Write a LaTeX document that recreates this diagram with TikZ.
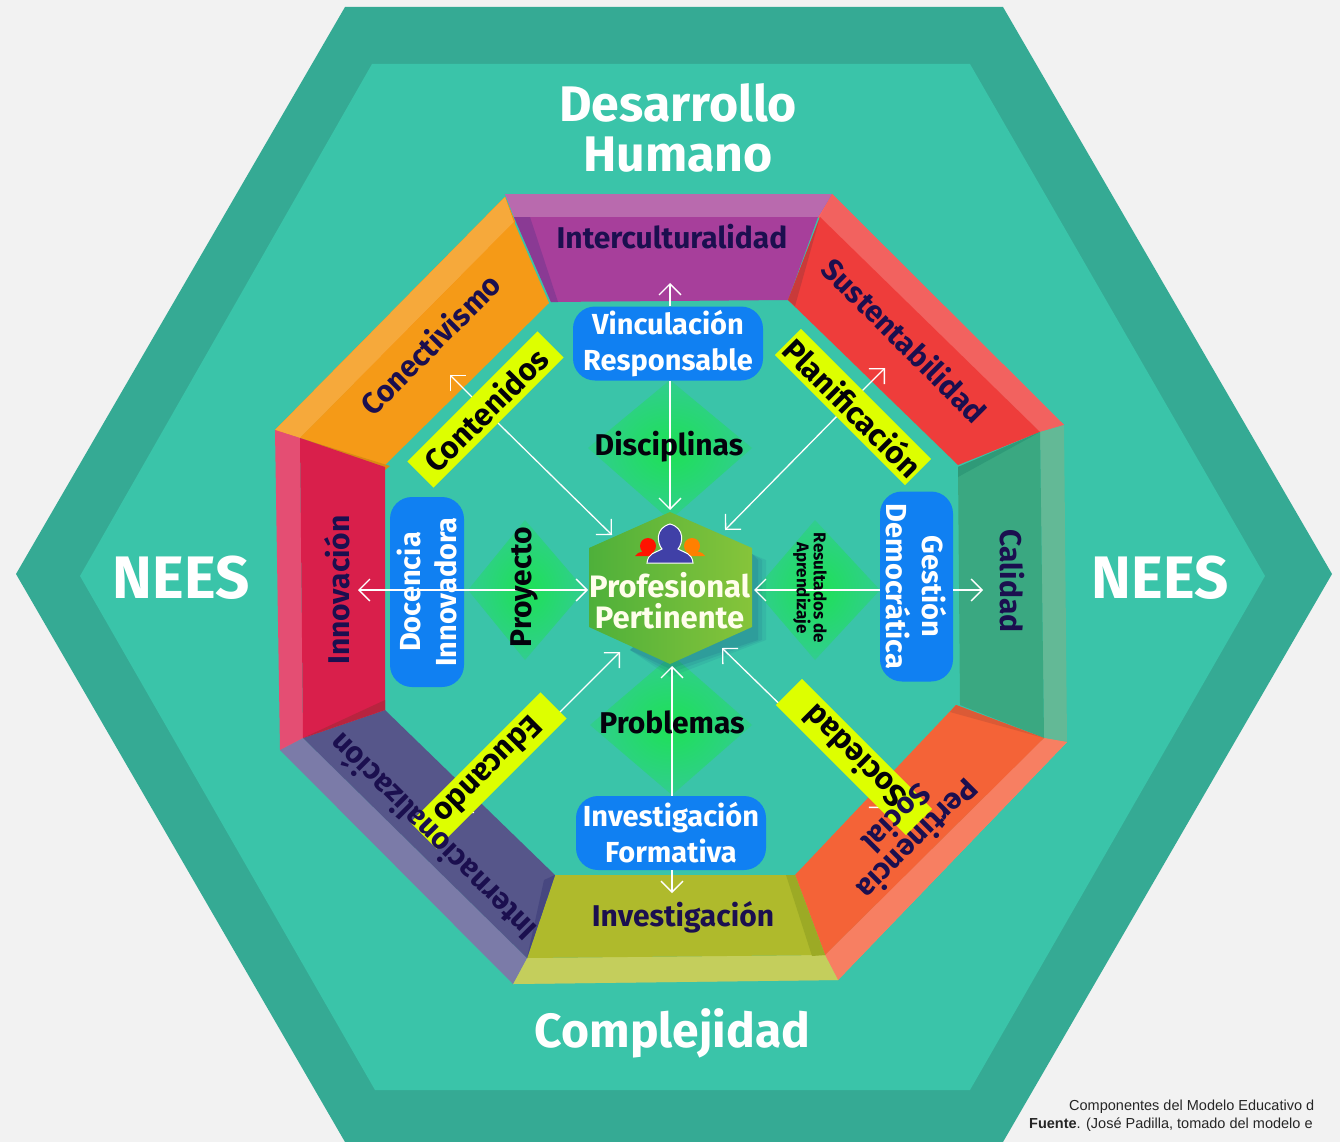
\documentclass[tikz,border=0pt]{standalone}
\usepackage{fontspec}
\setmainfont{Fira Sans}
\newfontfamily\capfont{Liberation Sans}
\usetikzlibrary{arrows.meta,shapes.misc}
\definecolor{bgc}{HTML}{F2F2F2}
\definecolor{hexout}{HTML}{35AA94}
\definecolor{hexin}{HTML}{3AC4A9}
\definecolor{navy}{HTML}{1B0F4F}
\definecolor{bluebox}{HTML}{1080F2}
\definecolor{lime}{HTML}{DDFF00}
\tikzset{
  lab/.style={font=\bfseries\fontsize{#1}{#1}\selectfont,text=navy,inner sep=0pt,align=center},
  lab/.default=30,
  blk/.style={font=\bfseries\fontsize{#1}{#1}\selectfont,text=black!85!navy,inner sep=0pt,align=center},
  big/.style={font=\bfseries\fontsize{#1}{#1}\selectfont,text=white,inner sep=0pt,align=center},
  boxb/.style={draw=none,fill=bluebox,rounded corners=22pt,font=\bfseries\fontsize{29}{36}\selectfont,text=white,align=center,inner sep=0pt},
  band/.style={fill=lime,minimum width=184pt,minimum height=37pt,inner sep=0pt,font=\bfseries\fontsize{31}{31}\selectfont,text=black!90!navy},
  arr/.style={draw=white,line width=1.3pt,-{Straight Barb[length=11pt,width=22pt,line width=1.3pt]}},
  dia/.style={inner color=#1,outer color=hexin!70!#1},
  dia/.default={green!50!hexin}
}
\begin{document}
\begin{tikzpicture}[x=1pt,y=-1pt]
\useasboundingbox (0,0) rectangle (1340,1142);
\clip (0,0) rectangle (1340,1142);
\fill[bgc] (0,0) rectangle (1340,1142);
% hexagons
\fill[hexout] (345,7)--(1003,7)--(1332,574)--(1003,1142)--(345,1142)--(16,574)--cycle;
\fill[hexin] (372,64)--(970,64)--(1265,576)--(970,1090)--(375,1090)--(80,576)--cycle;
% octagon bevels
\fill[black!0!hexin] (505,194)--(832,194)--(1064,425)--(1067,742)--(838,980)--(513,984)--(280,750)--(275,430)--cycle;
% outer bands
\fill[orange!70!yellow!85!white] (505,197)--(275,430)--(300,438)--(515,222)--cycle;
\fill[red!62!white] (832,194)--(1064,425)--(1040,432)--(818,217)--cycle;
\fill[orange!40!red!60!white] (1067,742)--(838,980)--(825,955)--(1044,738)--cycle;
\fill[yellow!45!green!55!white!85!black] (838,980)--(513,984)--(527,958)--(825,955)--cycle;
% top
\fill[purple!55!blue!55!white!85!black] (505,194)--(832,194)--(818,217)--(523,217)--cycle;
% recolour precise tones
\fill[orange!95!white,fill=orange] (505,197)--(275,430)--(300,438)--(515,222)--cycle;
\definecolor{bOr}{HTML}{F6A93B}\definecolor{mOr}{HTML}{F59A17}\definecolor{dOr}{HTML}{D98A12}
\definecolor{bRd}{HTML}{F2625F}\definecolor{mRd}{HTML}{EE3D3B}\definecolor{dRd}{HTML}{C93A3A}
\definecolor{bPu}{HTML}{B96AAE}\definecolor{mPu}{HTML}{A73F9B}\definecolor{dPu}{HTML}{8A3A94}
\definecolor{bGr}{HTML}{63B996}\definecolor{mGr}{HTML}{3AA881}\definecolor{dGr}{HTML}{2F9A78}
\definecolor{bOg}{HTML}{F77F62}\definecolor{mOg}{HTML}{F46337}\definecolor{dOg}{HTML}{DB5A36}
\definecolor{bOl}{HTML}{C4CE5C}\definecolor{mOl}{HTML}{AFBA2C}\definecolor{dOl}{HTML}{9CAA25}
\definecolor{bIn}{HTML}{7B7BA8}\definecolor{mIn}{HTML}{56568A}\definecolor{dIn}{HTML}{474780}
\definecolor{bCr}{HTML}{E44E73}\definecolor{mCr}{HTML}{D91F4B}\definecolor{dCr}{HTML}{B8243F}
% purple
\fill[bPu] (505,194)--(832,194)--(818,217)--(514,217)--cycle;
\fill[mPu] (514,217)--(818,217)--(788,300)--(551,302)--cycle;
\fill[dPu] (514,217)--(530,217)--(558,302)--(551,302)--cycle;
% orange
\fill[bOr] (505,197)--(275,430)--(300,438)--(514,222)--cycle;
\fill[mOr] (514,222)--(300,438)--(385,465)--(549,303)--cycle;
\fill[dOr] (300,438)--(390,466)--(385,470)--cycle;
% red
\fill[bRd] (832,194)--(1064,425)--(1040,432)--(820,217)--cycle;
\fill[mRd] (820,217)--(1040,432)--(958,465)--(788,300)--cycle;
\fill[dRd] (820,217)--(788,300)--(795,306)--cycle;
% green
\fill[bGr] (1040,432)--(1064,425)--(1067,742)--(1044,738)--cycle;
\fill[mGr] (1040,432)--(1044,738)--(960,705)--(958,467)--cycle;
\fill[dGr] (1040,432)--(958,467)--(958,477)--cycle;
% orange-red
\fill[bOg] (1067,742)--(838,980)--(825,955)--(1044,738)--cycle;
\fill[mOg] (1044,738)--(825,955)--(795,875)--(956,705)--cycle;
\fill[dOg] (1044,738)--(956,705)--(950,712)--cycle;
% olive
\fill[bOl] (838,980)--(513,984)--(527,958)--(825,955)--cycle;
\fill[mOl] (555,875)--(795,875)--(825,955)--(527,958)--cycle;
\fill[dOl] (795,875)--(825,955)--(812,956)--(786,875)--cycle;
% indigo
\fill[bIn] (513,984)--(280,750)--(303,738)--(527,958)--cycle;
\fill[mIn] (303,738)--(527,958)--(555,875)--(385,710)--cycle;
\fill[dIn] (527,958)--(555,875)--(544,880)--cycle;
% crimson
\fill[bCr] (275,430)--(300,438)--(303,738)--(280,750)--cycle;
\fill[mCr] (300,438)--(385,467)--(385,710)--(303,738)--cycle;
\fill[dCr] (303,738)--(385,710)--(385,700)--cycle;
% diamonds
\shade[dia] (670,380)--(752,448)--(670,520)--(588,448)--cycle;
\shade[dia] (672,655)--(752,725)--(672,795)--(590,725)--cycle;
\shade[dia] (525,520)--(585,590)--(525,660)--(468,590)--cycle;
\shade[dia] (815,520)--(880,590)--(815,660)--(755,590)--cycle;
% shadow of the hexagon
\foreach \o/\s in {.06/14,.07/10,.08/6}{
  \fill[black!60!blue,opacity=\o] (752-\s,548)--(752+\s,560)--(752+\s,640)--(670,663+\s)--(630,650)--cycle;
}
% centre
\node[inner sep=0pt] (prof) at (670.5,588) {};
\shade[left color=green!45!black!20!green!70!hexout!90!green,right color=green!50!yellow!75!black,
  left color={rgb,255:red,78;green,176;blue,58},right color={rgb,255:red,134;green,196;blue,58}]
  (670,512)--(752,548)--(752,627)--(670,664)--(589,627)--(589,548)--cycle;
\coordinate (pT) at (670,510); \coordinate (pB) at (672,666);
\coordinate (pL) at (588,590); \coordinate (pR) at (754,590);
\coordinate (pTL) at (612,535); \coordinate (pTR) at (725,530);
\coordinate (pBL) at (620,652); \coordinate (pBR) at (722,648);
% people
\fill[red!85!orange] (648,546) circle (8);
\fill[red!85!orange] (635,556) .. controls (638,551) and (645,551) .. (650,552) -- (665,556)--cycle;
\fill[orange] (692,546) circle (8);
\fill[orange] (675,556) -- (690,552) .. controls (697,551) and (702,551) .. (705,556) --cycle;
\filldraw[draw=white,line width=1pt,fill=mIn!75!blue] (647,563) .. controls (648,553) and (655,553) .. (662,549)
  .. controls (657,543) and (655,528) .. (670,524) .. controls (685,528) and (683,543) .. (678,549)
  .. controls (685,553) and (692,553) .. (693,563) --cycle;
% connectors (drawn below bands and boxes)
\node[boxb,minimum width=190pt,minimum height=74pt] (vin) at (668,343.5) {Vinculación\\Responsable};
\node[boxb,minimum width=190pt,minimum height=74pt] (inv) at (671,833) {Investigación\\Formativa};
\node[boxb,minimum width=190pt,minimum height=74pt,rotate=90] (doc) at (427,592) {Docencia\\Innovadora};
\node[boxb,minimum width=190pt,minimum height=73pt,rotate=-90] (ges) at (916.5,586.5) {Gestión\\Democrática};
\coordinate (aInt) at (670,283);
\coordinate (aInv) at (672,893);
\coordinate (aInn) at (358,590);
\coordinate (aCal) at (983,590);
\coordinate (aCon) at (450,375);
\coordinate (aSus) at (885,368);
\coordinate (aIna) at (458,813);
\coordinate (aPer) at (885,808);
\draw[arr] (vin.north -| aInt) -- (aInt);
\draw[arr] (vin.south -| pT) -- (pT);
\draw[arr] (inv.north -| pB) -- (pB);
\draw[arr] (inv.south -| aInv) -- (aInv);
\draw[arr] (doc.south |- aInn) -- (aInn);
\draw[arr] (doc.north |- pL) -- (pL);
\draw[arr] (ges.south |- pR) -- (pR);
\draw[arr] (ges.north |- aCal) -- (aCal);
\coordinate (mCo) at (500,425);
\coordinate (mPl) at (840,413);
\coordinate (mEd) at (505,767);
\coordinate (mSo) at (840,763);
\draw[arr] (mCo) -- (pTL);
\draw[arr] (mCo) -- (aCon);
\draw[arr] (mPl) -- (pTR);
\draw[arr] (mPl) -- (aSus);
\draw[arr] (mEd) -- (pBL);
\draw[arr] (mEd) -- (aIna);
\draw[arr] (mSo) -- (pBR);
\draw[arr] (mSo) -- (aPer);
% lime bands
\node[band,rotate=45] (con) at (485.5,409.5) {Contenidos};
\node[band,rotate=-45] (pla) at (853,407) {Planificación};
\node[band,rotate=-135] (edu) at (488.5,770.5) {Educando};
\node[band,rotate=-225] (soc) at (854,757) {Sociedad};
% labels
\node[big=50] (dh) at (678,127.5) {\fontsize{50}{61}\selectfont Desarrollo\\Humano};
\node[big=48] (cpl) at (672.5,1033) {Complejidad};
\node[big=60] (n1) at (181,578) {NEES};
\node[big=60] (n2) at (1160,578) {NEES};
\node[lab=30] (l1) at (672,237) {Interculturalidad};
\node[lab=30,rotate=45] (l2) at (430,344) {Conectivismo};
\node[lab=30,rotate=-45] (l3) at (905,340) {Sustentabilidad};
\node[lab=30,rotate=90] (l4) at (337,590) {Innovación};
\node[lab=30,rotate=-90] (l5) at (1012,581) {Calidad};
\node[lab=30,rotate=135] (l6) at (432,838) {Internacionalización};
\node[lab=30] (l7) at (683,917) {Investigación};
\node[lab=30,rotate=225] (l8) at (908,830) {\fontsize{30}{44}\selectfont Pertinencia\\Social};
\node[blk=30] (t1) at (669,447) {Disciplinas};
\node[blk=30] (t2) at (672,722) {Problemas};
\node[blk=30,rotate=90] (t3) at (524,587) {Proyecto};
\node[blk=17,rotate=-90] (t4) at (810,588) {\fontsize{17}{26}\selectfont Resultados de\\Aprendizaje};
\node[big=31,text=white!92!yellow] (t5) at (669.5,601) {\fontsize{31}{36}\selectfont Profesional\\Pertinente};
% caption
\node[font=\capfont\fontsize{14.5}{18}\selectfont,text=black!85,anchor=base west,inner sep=0pt] (c1) at (1069,1110) {Componentes del Modelo Educativo d};
\node[font=\capfont\fontsize{14.5}{18}\selectfont,text=black!85,anchor=base west,inner sep=0pt] (c2) at (1029,1128) {\textbf{Fuente}. (José Padilla, tomado del modelo e};
\end{tikzpicture}
\end{document}
